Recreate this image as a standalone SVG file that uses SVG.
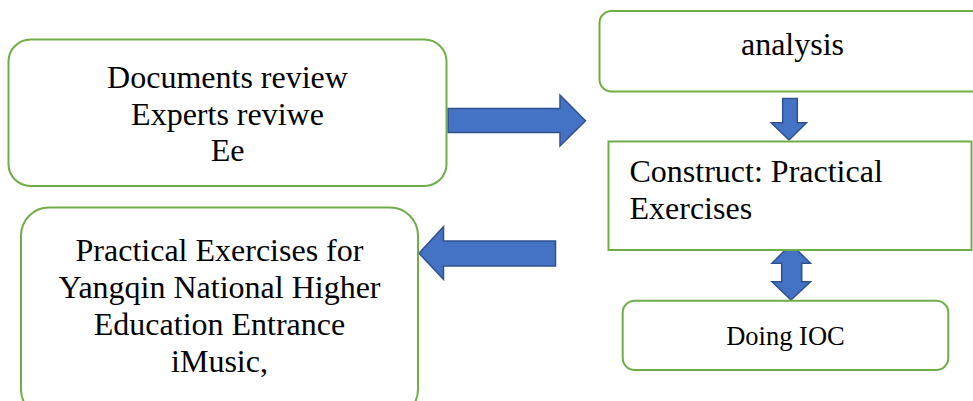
<svg xmlns="http://www.w3.org/2000/svg" width="973" height="401" viewBox="0 0 973 401">
<style>
.box{fill:#fff;stroke:#70AD47;stroke-width:2}
.arrow{fill:#4472C4;stroke:#2F528F;stroke-width:1.5;stroke-linejoin:miter}
text{font-family:"Liberation Serif","Times New Roman",serif;fill:#000;font-size:32px}
.c{text-anchor:middle}
</style>
<rect width="973" height="401" fill="#fff"/>
<g id="connectors">
<path class="arrow" d="M448,108.5 H560 V95 L585.5,120.7 L560,146 V132.5 H448 Z"/>
<path class="arrow" d="M555.5,241 H443.5 V226.7 L419,253.3 L443.5,279.3 V266 H555.5 Z"/>
<path class="arrow" d="M782.7,98.5 H797.3 V122.7 H806.5 L789,140 L771.2,122.7 H782.7 Z"/>
<path class="arrow" d="M791,244 L810.5,263.3 H801.7 V281.7 H810.5 L791,300 L772,281.7 H781.7 V263.3 H772 Z"/>
</g>
<g id="node-docs">
<rect class="box" x="8.5" y="39.5" width="438" height="146.5" rx="22"/>
<text class="c" x="227.5" y="88">Documents review</text>
<text class="c" x="227.5" y="124.5">Experts reviwe</text>
<text class="c" x="227.5" y="161">Ee</text>
</g>
<g id="node-practical">
<rect class="box" x="21" y="207.5" width="397" height="210" rx="28"/>
<text class="c" x="219.5" y="261">Practical Exercises for</text>
<text class="c" x="219.5" y="298">Yangqin National Higher</text>
<text class="c" x="219.5" y="335">Education Entrance</text>
<text class="c" x="219.5" y="372">iMusic,</text>
</g>
<g id="node-analysis">
<rect class="box" x="599.5" y="11" width="386" height="80.5" rx="12"/>
<text class="c" x="792.5" y="55">analysis</text>
</g>
<g id="node-construct">
<rect class="box" x="608.5" y="141.5" width="363" height="108.5"/>
<text x="629.5" y="181.5">Construct: Practical</text>
<text x="629.5" y="218.5">Exercises</text>
</g>
<g id="node-ioc">
<rect class="box" x="622.7" y="300.7" width="325.6" height="69.3" rx="12"/>
<text class="c" x="785.5" y="345" style="font-size:26.5px">Doing IOC</text>
</g>
</svg>
